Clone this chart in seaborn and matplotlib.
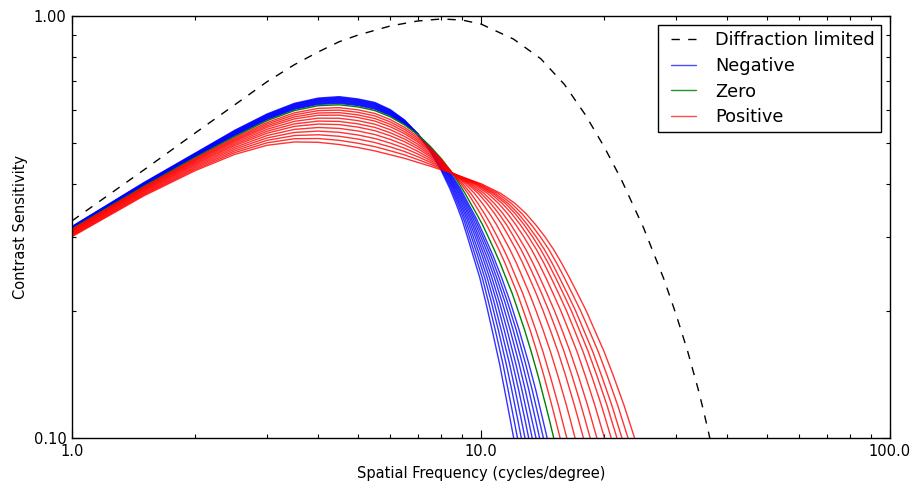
import matplotlib
matplotlib.use("Agg")
import matplotlib.pyplot as plt
from matplotlib.lines import Line2D
from matplotlib.legend_handler import HandlerLine2D
from matplotlib.ticker import FixedLocator, FixedFormatter, LogLocator, NullFormatter
import seaborn as sns
import pandas as pd

# ---------------- data ----------------
# Diffraction limited curve
DIFF_FREQ = [1, 1.5, 2, 2.5, 3, 3.5, 4, 4.5, 5, 6, 7, 8, 9, 10, 12, 14, 16, 18,
             20, 22, 25, 28, 30, 32, 34, 35, 36, 37]
DIFF_CS = [0.327, 0.432, 0.528, 0.616, 0.699, 0.767, 0.822, 0.869, 0.901, 0.947,
           0.973, 0.984, 0.978, 0.957, 0.882, 0.792, 0.688, 0.583, 0.490, 0.411,
           0.314, 0.238, 0.196, 0.1606, 0.130, 0.116, 0.1032, 0.0912]

# low-frequency part of each curve: contrast sensitivity at these frequencies
NEG_HEAD_FREQ = [1, 1.5, 2, 2.5, 3, 3.5, 4, 4.5, 5, 5.5, 6, 6.5, 7, 7.5, 8]
POS_HEAD_FREQ = [1, 1.5, 2, 2.5, 3, 3.5, 4, 4.5, 5, 5.5, 6, 6.5, 7, 7.5, 8, 8.5]
# high-frequency part: frequency at which each curve falls to these levels
NEG_LEVELS = [0.42, 0.39, 0.36, 0.33, 0.30, 0.27, 0.24, 0.21, 0.18, 0.15, 0.13, 0.11, 0.10, 0.09]
POS_LEVELS = [0.40, 0.38, 0.36, 0.34, 0.32, 0.30, 0.28, 0.26, 0.24, 0.22, 0.20, 0.18,
              0.16, 0.14, 0.12, 0.11, 0.10, 0.09]

NEG_HEAD = [
    [.3170, .4030, .4730, .5360, .5860, .6210, .6390, .6440, .6360, .6240, .6000, .5670, .5260, .4800, .4300],
    [.3166, .4023, .4720, .5343, .5841, .6188, .6366, .6414, .6335, .6215, .5979, .5656, .5258, .4811, .4327],
    [.3163, .4015, .4710, .5327, .5821, .6166, .6342, .6388, .6310, .6190, .5957, .5642, .5256, .4822, .4354],
    [.3159, .4008, .4699, .5310, .5802, .6143, .6318, .6362, .6285, .6165, .5936, .5628, .5254, .4833, .4381],
    [.3155, .4000, .4689, .5293, .5782, .6121, .6294, .6336, .6260, .6140, .5915, .5614, .5253, .4845, .4408],
    [.3151, .3993, .4679, .5277, .5763, .6099, .6270, .6310, .6235, .6115, .5893, .5601, .5251, .4856, .4434],
    [.3148, .3986, .4669, .5260, .5743, .6077, .6245, .6284, .6210, .6090, .5872, .5587, .5249, .4867, .4461],
    [.3144, .3978, .4659, .5243, .5724, .6054, .6221, .6258, .6185, .6065, .5851, .5573, .5247, .4878, .4488],
    [.3140, .3971, .4648, .5227, .5704, .6032, .6197, .6232, .6160, .6040, .5829, .5559, .5245, .4889, .4515],
    [.3137, .3963, .4638, .5210, .5685, .6010, .6173, .6206, .6135, .6015, .5808, .5545, .5243, .4900, .4542],
]
NEG_TAIL_FREQ = [
    [8.09, 8.39, 8.68, 8.98, 9.26, 9.57, 9.93, 10.27, 10.65, 11.10, 11.42, 11.80, 12.02, 12.25],
    [8.13, 8.45, 8.75, 9.07, 9.36, 9.69, 10.07, 10.43, 10.84, 11.31, 11.65, 12.05, 12.28, 12.53],
    [8.18, 8.50, 8.82, 9.15, 9.47, 9.82, 10.21, 10.60, 11.03, 11.52, 11.89, 12.31, 12.55, 12.80],
    [8.22, 8.56, 8.88, 9.24, 9.57, 9.94, 10.35, 10.76, 11.21, 11.74, 12.12, 12.56, 12.81, 13.08],
    [8.27, 8.61, 8.95, 9.32, 9.68, 10.07, 10.49, 10.93, 11.40, 11.95, 12.36, 12.82, 13.08, 13.35],
    [8.31, 8.67, 9.02, 9.41, 9.78, 10.19, 10.63, 11.09, 11.59, 12.16, 12.59, 13.07, 13.34, 13.63],
    [8.35, 8.72, 9.09, 9.49, 9.88, 10.32, 10.78, 11.26, 11.79, 12.39, 12.83, 13.33, 13.63, 13.92],
    [8.40, 8.78, 9.16, 9.58, 9.99, 10.45, 10.92, 11.44, 11.99, 12.62, 13.09, 13.61, 13.91, 14.23],
    [8.44, 8.84, 9.23, 9.67, 10.10, 10.58, 11.07, 11.61, 12.20, 12.85, 13.34, 13.89, 14.21, 14.53],
    [8.49, 8.90, 9.30, 9.76, 10.21, 10.71, 11.23, 11.79, 12.40, 13.09, 13.61, 14.18, 14.51, 14.85],
]

ZERO_HEAD = [.313, .395, .462, .518, .565, .597, .613, .616, .609, .597, .577, .552, .524, .492, .459, .425]
ZERO_TAIL_FREQ = [8.85, 9.14, 9.43, 9.75, 10.09, 10.41, 10.76, 11.13, 11.50, 11.92, 12.33, 12.79,
                  13.27, 13.80, 14.38, 14.71, 15.06, 15.43]

POS_HEAD = [
    [.3120, .3934, .4594, .5142, .5593, .5895, .6041, .6064, .5993, .5876, .5684, .5446, .5181, .4879, .4568, .4249],
    [.3111, .3921, .4573, .5109, .5546, .5832, .5967, .5984, .5912, .5797, .5611, .5385, .5131, .4845, .4550, .4249],
    [.3102, .3907, .4551, .5077, .5497, .5768, .5891, .5902, .5830, .5716, .5538, .5322, .5081, .4810, .4532, .4248],
    [.3093, .3894, .4530, .5045, .5450, .5705, .5817, .5822, .5749, .5637, .5465, .5261, .5031, .4776, .4514, .4247],
    [.3083, .3877, .4504, .5006, .5392, .5629, .5727, .5724, .5651, .5542, .5378, .5186, .4971, .4735, .4492, .4246],
    [.3072, .3861, .4478, .4966, .5334, .5552, .5636, .5626, .5552, .5445, .5289, .5111, .4911, .4693, .4470, .4246],
    [.3062, .3845, .4452, .4928, .5277, .5476, .5546, .5529, .5454, .5349, .5202, .5036, .4851, .4652, .4448, .4245],
    [.3049, .3826, .4422, .4882, .5210, .5387, .5442, .5416, .5340, .5238, .5100, .4950, .4781, .4604, .4423, .4244],
    [.3037, .3807, .4391, .4837, .5142, .5298, .5336, .5302, .5225, .5126, .4998, .4862, .4711, .4555, .4397, .4243],
    [.3025, .3788, .4361, .4791, .5075, .5209, .5231, .5188, .5110, .5014, .4895, .4775, .4641, .4507, .4371, .4242],
    [.3012, .3769, .4330, .4746, .5007, .5119, .5125, .5074, .4995, .4902, .4793, .4687, .4570, .4458, .4346, .4241],
    [.3000, .3750, .4300, .4700, .4940, .5030, .5020, .4960, .4880, .4790, .4690, .4600, .4500, .4410, .4320, .4240],
]
POS_TAIL_FREQ = [
    [8.94, 9.29, 9.62, 9.97, 10.32, 10.67, 11.05, 11.44, 11.83, 12.27, 12.70, 13.19, 13.70, 14.26, 14.88, 15.23, 15.61, 15.99],
    [9.03, 9.44, 9.82, 10.20, 10.58, 10.96, 11.36, 11.77, 12.18, 12.65, 13.11, 13.62, 14.18, 14.77, 15.44, 15.80, 16.21, 16.62],
    [9.15, 9.64, 10.07, 10.50, 10.92, 11.32, 11.76, 12.20, 12.64, 13.13, 13.64, 14.19, 14.79, 15.43, 16.16, 16.55, 16.98, 17.43],
    [9.27, 9.84, 10.33, 10.80, 11.26, 11.70, 12.17, 12.64, 13.12, 13.64, 14.19, 14.78, 15.43, 16.12, 16.90, 17.33, 17.80, 18.29],
    [9.36, 10.00, 10.55, 11.06, 11.55, 12.02, 12.52, 13.01, 13.52, 14.07, 14.66, 15.28, 15.97, 16.71, 17.54, 17.99, 18.49, 19.01],
    [9.46, 10.17, 10.77, 11.32, 11.84, 12.34, 12.87, 13.39, 13.92, 14.50, 15.13, 15.79, 16.52, 17.31, 18.20, 18.67, 19.20, 19.76],
    [9.57, 10.37, 11.03, 11.62, 12.17, 12.72, 13.28, 13.83, 14.40, 15.01, 15.68, 16.38, 17.18, 18.01, 18.96, 19.47, 20.04, 20.64],
    [9.67, 10.54, 11.26, 11.89, 12.48, 13.06, 13.65, 14.24, 14.83, 15.48, 16.19, 16.93, 17.77, 18.66, 19.67, 20.21, 20.81, 21.45],
    [9.76, 10.69, 11.46, 12.13, 12.75, 13.36, 13.98, 14.59, 15.21, 15.89, 16.64, 17.41, 18.30, 19.23, 20.30, 20.86, 21.50, 22.16],
    [9.83, 10.82, 11.64, 12.34, 12.99, 13.63, 14.28, 14.91, 15.55, 16.26, 17.04, 17.84, 18.77, 19.74, 20.86, 21.45, 22.11, 22.81],
    [9.93, 10.99, 11.85, 12.60, 13.28, 13.96, 14.64, 15.30, 15.98, 16.71, 17.53, 18.38, 19.36, 20.38, 21.56, 22.18, 22.88, 23.62],
    [10.03, 11.17, 12.10, 12.89, 13.61, 14.33, 15.04, 15.73, 16.45, 17.22, 18.09, 18.97, 20.01, 21.09, 22.34, 23.00, 23.74, 24.52],
]

LEGEND_LABELS = ["Diffraction limited", "Negative", "Zero", "Positive"]
X_TICKS = [1, 10, 100]
X_TICK_LABELS = ["1.0", "10.0", "100.0"]
Y_TICKS = [0.1, 1.0]
Y_TICK_LABELS = ["0.10", "1.00"]

# ---------------- styling ----------------
sns.set_theme(style="white")
plt.rcParams["font.family"] = ["DejaVu Sans"]
plt.rcParams["text.color"] = "black"
plt.rcParams["axes.labelcolor"] = "black"

BLUE = "#0000ff"
GREEN = "#008000"
RED = "#ff0000"

fig = plt.figure(figsize=(9.12, 4.83), dpi=100)
ax = fig.add_axes([72 / 912, 1 - 438 / 483, (890 - 72) / 912, (438 - 16) / 483])


def curve(head_freq, head_vals, levels, tail_freqs):
    return pd.DataFrame({"freq": list(head_freq) + list(tail_freqs),
                         "cs": list(head_vals) + list(levels)})


def draw(df, **kw):
    sns.lineplot(data=df, x="freq", y="cs", ax=ax, estimator=None, sort=False,
                 legend=False, **kw)


draw(pd.DataFrame({"freq": DIFF_FREQ, "cs": DIFF_CS}), color="black", lw=1.0, zorder=3)
ax.lines[-1].set_dashes([6, 6])

for hv, tf in zip(NEG_HEAD, NEG_TAIL_FREQ):
    draw(curve(NEG_HEAD_FREQ, hv, NEG_LEVELS, tf), color=BLUE, lw=1.0, alpha=0.8, zorder=2)

draw(curve(POS_HEAD_FREQ, ZERO_HEAD, POS_LEVELS, ZERO_TAIL_FREQ), color=GREEN, lw=1.0, zorder=2)

for hv, tf in zip(POS_HEAD, POS_TAIL_FREQ):
    draw(curve(POS_HEAD_FREQ, hv, POS_LEVELS, tf), color=RED, lw=1.0, alpha=0.8, zorder=2)

ax.set_xscale("log")
ax.set_yscale("log")
ax.set_xlim(1, 100)
ax.set_ylim(0.1, 1.0)

ax.xaxis.set_major_locator(FixedLocator(X_TICKS))
ax.xaxis.set_major_formatter(FixedFormatter(X_TICK_LABELS))
ax.yaxis.set_major_locator(FixedLocator(Y_TICKS))
ax.yaxis.set_major_formatter(FixedFormatter(Y_TICK_LABELS))
ax.xaxis.set_minor_locator(LogLocator(base=10, subs=range(2, 10)))
ax.yaxis.set_minor_locator(LogLocator(base=10, subs=range(2, 10)))
ax.xaxis.set_minor_formatter(NullFormatter())
ax.yaxis.set_minor_formatter(NullFormatter())

ax.tick_params(which="both", direction="in", top=True, right=True, bottom=True,
               left=True, colors="black", labelsize=10.5)
ax.tick_params(which="major", length=6, width=0.8, pad=4)
ax.tick_params(which="minor", length=3, width=0.8)

ax.set_xlabel("Spatial Frequency (cycles/degree)", fontsize=10.5, labelpad=5.5)
ax.set_ylabel("Contrast Sensitivity", fontsize=10.5, labelpad=4)
for sp in ax.spines.values():
    sp.set_visible(True)
    sp.set_color("black")
    sp.set_linewidth(1.0)

handles = [
    Line2D([], [], color="black", lw=1.0, dashes=[6, 6]),
    Line2D([], [], color=BLUE, lw=1.0, alpha=0.7),
    Line2D([], [], color=GREEN, lw=1.0, alpha=0.85),
    Line2D([], [], color=RED, lw=1.0, alpha=0.7),
]
leg = ax.legend(handles, LEGEND_LABELS, loc="upper right", fontsize=12.8,
                frameon=True, fancybox=False, framealpha=1, edgecolor="black",
                handlelength=1.79, handletextpad=1.09, labelspacing=0.44,
                borderpad=0.34, borderaxespad=0.5,
                handler_map={Line2D: HandlerLine2D(xpad=0.4)})
leg.get_frame().set_linewidth(1.0)

fig.savefig("out.png", dpi=100, facecolor="white")
